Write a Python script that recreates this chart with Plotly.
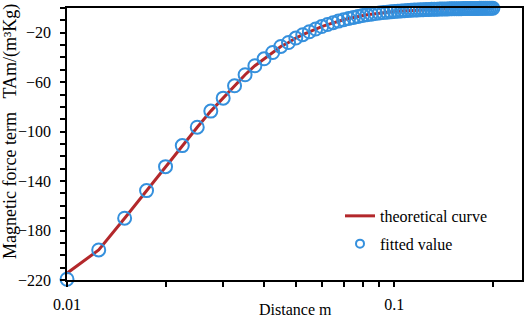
import plotly.graph_objects as go

# Distance (m)
distance = [0.0100, 0.0125, 0.0150, 0.0175, 0.0200, 0.0225, 0.0250, 0.0275, 0.0300, 0.0325,
            0.0350, 0.0375, 0.0400, 0.0425, 0.0450, 0.0475, 0.0500, 0.0525, 0.0550, 0.0575,
            0.0600, 0.0625, 0.0650, 0.0675, 0.0700, 0.0725, 0.0750, 0.0775, 0.0800, 0.0825,
            0.0850, 0.0875, 0.0900, 0.0925, 0.0950, 0.0975, 0.1000, 0.1025, 0.1050, 0.1075,
            0.1100, 0.1125, 0.1150, 0.1175, 0.1200, 0.1225, 0.1250, 0.1275, 0.1300, 0.1325,
            0.1350, 0.1375, 0.1400, 0.1425, 0.1450, 0.1475, 0.1500, 0.1525, 0.1550, 0.1575,
            0.1600, 0.1625, 0.1650, 0.1675, 0.1700, 0.1725, 0.1750, 0.1775, 0.1800, 0.1825,
            0.1850, 0.1875, 0.1900, 0.1925, 0.1950, 0.1975, 0.2000]

fitted_value = [-219.4, -195.7, -170.0, -147.7, -128.3, -111.3, -96.4, -83.4, -72.9, -62.9,
                -54.0, -46.7, -41.1, -36.0, -31.1, -27.9, -24.3, -21.6, -19.2, -17.0,
                -15.0, -13.4, -11.9, -10.6, -9.5, -8.5, -7.6, -6.8, -6.1, -5.5,
                -5.0, -4.5, -4.1, -3.7, -3.4, -3.1, -2.8, -2.6, -2.4, -2.2,
                -2.0, -1.85, -1.7, -1.6, -1.5, -1.4, -1.3, -1.2, -1.1, -1.0,
                -0.95, -0.9, -0.85, -0.8, -0.75, -0.7, -0.65, -0.6, -0.57, -0.54,
                -0.51, -0.48, -0.45, -0.42, -0.4, -0.38, -0.36, -0.34, -0.32, -0.3,
                -0.28, -0.27, -0.26, -0.25, -0.24, -0.23, -0.22]

theoretical_curve = [-214.5, -195.7, -170.0, -147.7, -128.3, -111.3, -96.4, -83.4, -72.9, -62.9,
                     -54.0, -46.7, -41.1, -36.0, -31.1, -27.9, -24.3, -21.6, -19.2, -17.0,
                     -15.0, -13.4, -11.9, -10.6, -9.5, -8.5, -7.6, -6.8, -6.1, -5.5,
                     -5.0, -4.5, -4.1, -3.7, -3.4, -3.1, -2.8, -2.6, -2.4, -2.2,
                     -2.0, -1.85, -1.7, -1.6, -1.5, -1.4, -1.3, -1.2, -1.1, -1.0,
                     -0.95, -0.9, -0.85, -0.8, -0.75, -0.7, -0.65, -0.6, -0.57, -0.54,
                     -0.51, -0.48, -0.45, -0.42, -0.4, -0.38, -0.36, -0.34, -0.32, -0.3,
                     -0.28, -0.27, -0.26, -0.25, -0.24, -0.23, -0.22]

x_tickvals = [0.01, 0.1]
x_ticktext = ["0.01", "0.1"]
x_minor = [0.02, 0.03, 0.04, 0.05, 0.06, 0.07, 0.08, 0.09, 0.2]
y_tickvals = [-220, -180, -140, -100, -60, -20]

RED = "#b3282b"
BLUE = "#3590dd"
FONT = "Liberation Serif"
TICKFONT = dict(family=FONT, size=16, color="black")

fig = go.Figure()
fig.add_trace(go.Scatter(x=distance, y=theoretical_curve, mode="lines",
                         line=dict(color=RED, width=3), name="theoretical curve",
                         legendgroup="a", cliponaxis=False))
fig.add_trace(go.Scatter(x=distance, y=fitted_value, mode="markers",
                         marker=dict(symbol="circle-open", size=13, color=BLUE,
                                     line=dict(width=2, color=BLUE)),
                         name="fitted value", showlegend=False, cliponaxis=False))
fig.add_trace(go.Scatter(x=[None], y=[None], mode="markers",
                         marker=dict(symbol="circle-open", size=8, color=BLUE,
                                     line=dict(width=2, color=BLUE)),
                         name="fitted value", legendgroup="b"))

fig.update_layout(
    width=526, height=317,
    margin=dict(l=67, r=4, t=8, b=37),
    paper_bgcolor="white", plot_bgcolor="white",
    font=dict(family=FONT, size=16, color="black"),
    showlegend=True,
    legend=dict(x=0.6, y=0.298, xanchor="left", yanchor="top",
                bgcolor="rgba(0,0,0,0)", font=dict(family=FONT, size=16),
                traceorder="grouped", tracegroupgap=4),
    xaxis=dict(type="log", range=[-2, -0.61], automargin=False,
               tickmode="array", tickvals=x_tickvals, ticktext=x_ticktext,
               tickfont=TICKFONT,
               ticks="outside", ticklen=5, tickwidth=1.5, tickcolor="black",
               showline=True, linecolor="black", linewidth=1.5, mirror=True,
               showgrid=False, zeroline=False, ticklabelstandoff=4,
               minor=dict(tickmode="array", tickvals=x_minor, ticks="outside",
                          ticklen=5, tickwidth=1.5, tickcolor="black", showgrid=False)),
    yaxis=dict(range=[-220, 0], automargin=False,
               tickmode="array", tickvals=y_tickvals, tickfont=TICKFONT,
               ticks="outside", ticklen=5, tickwidth=1.5, tickcolor="black",
               showline=True, linecolor="black", linewidth=1.5, mirror=True,
               showgrid=False, zeroline=False, ticklabelstandoff=6,
               minor=dict(tick0=0, dtick=10, ticks="outside", ticklen=5,
                          tickwidth=1.5, tickcolor="black", showgrid=False)),
    annotations=[
        dict(text="Distance m", xref="paper", yref="paper",
             x=(295 - 67) / 455, y=(280 - 309) / 272, xanchor="center", yanchor="middle",
             showarrow=False, font=dict(family=FONT, size=16, color="black")),
        dict(text="Magnetic force term\u00a0\u00a0\u00a0TAm/(m³Kg)", xref="paper", yref="paper",
             x=(10 - 67) / 455, y=(280 - 132) / 272, xanchor="center", yanchor="middle",
             textangle=-90, showarrow=False, font=dict(family=FONT, size=18, color="black")),
    ],
)

fig.write_html("out.html", config={"displayModeBar": False},
               post_script="document.body.style.margin='0';document.body.style.padding='0';")
